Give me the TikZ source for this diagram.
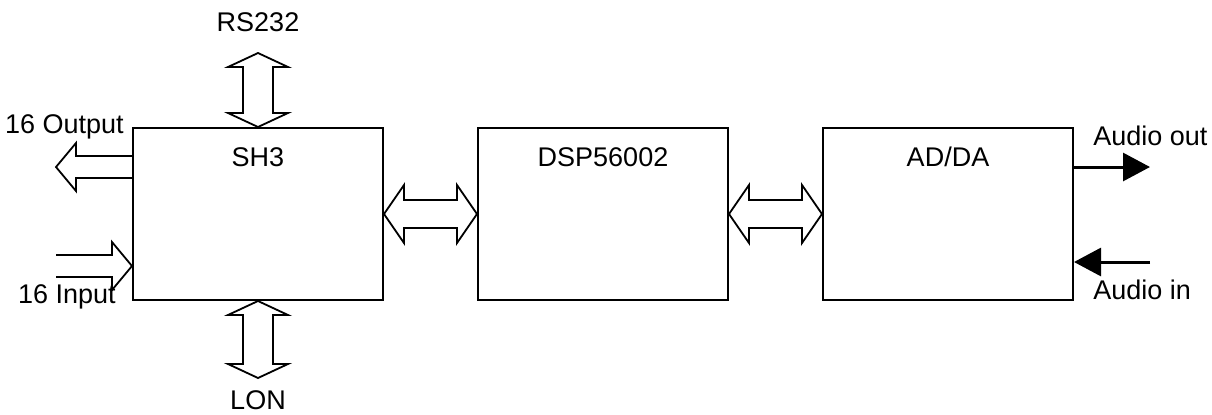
\documentclass[tikz,border=0pt]{standalone}
\usepackage{fontspec}
\setmainfont{Liberation Sans}
\usetikzlibrary{calc,arrows.meta}

\tikzset{
  block/.style={draw, line width=1pt, minimum width=125pt, minimum height=86pt, inner sep=0pt},
  blocktxt/.style={font=\fontsize{13.5}{15}\selectfont},
  sidetxt/.style={font=\fontsize{13.5}{15}\selectfont, inner sep=0pt},
  fatarrow/.style={draw, line width=0.9pt, line join=miter},
  audioarrow/.style={line width=1.5pt, -{Triangle[length=13.5pt,width=14pt]}}
}

% hollow double arrows, #1 and #2 are the tips
\newcommand{\hdouble}[2]{%
  \draw[fatarrow] (#1) -- ++(20,-29) -- ++(0,15) -- ($(#2)+(-20,-14)$) -- ++(0,-15)
    -- (#2) -- ++(-20,29) -- ++(0,-15) -- ($(#1)+(20,14)$) -- ++(0,15) -- cycle;}
\newcommand{\vdouble}[2]{%
  \draw[fatarrow] (#1) -- ++(30,14) -- ++(-15,0) -- ($(#2)+(15,-14)$) -- ++(15,0)
    -- (#2) -- ++(-30,-14) -- ++(15,0) -- ($(#1)+(-15,14)$) -- ++(-15,0) -- cycle;}
% hollow single arrow, open at the tail: #1 tail, #2 tip, #3 = 1 right / -1 left
\newcommand{\hsingle}[3]{%
  \draw[fatarrow] ($(#1)+(0,-11)$) -- ($(#2)+({-20*(#3)},-11)$) -- ++(0,-13) -- (#2)
    -- ($(#2)+({-20*(#3)},24)$) -- ++(0,-13) -- ($(#1)+(0,11)$);}

\begin{document}
\begin{tikzpicture}[x=0.5pt,y=-0.5pt]
  \useasboundingbox (0,0) rectangle (1212,414);

  % Blocks
  \node[block] (sh3) at (258,214) {};
  \node[block] (dsp) at (603,214) {};
  \node[block] (adda) at (948,214) {};
  \node[blocktxt] (sh3txt) at ($(sh3.north)+(0,30)$) {SH3};
  \node[blocktxt] (dsptxt) at ($(dsp.north)+(0,30)$) {DSP56002};
  \node[blocktxt] (addatxt) at ($(adda.north)+(0,30)$) {AD/DA};

  % Free ends
  \coordinate (rstip) at (258,53);
  \coordinate (lontip) at (258,378);
  \coordinate (outtip) at (56,167);
  \coordinate (outtail) at (sh3.west |- outtip);
  \coordinate (intail) at (56,266);
  \coordinate (intip) at (intail -| sh3.west);
  \coordinate (aoutend) at (1150,167);
  \coordinate (ainstart) at (1150,262);

  % Labels
  \node[sidetxt] (rs232) at (258,22) {RS232};
  \node[sidetxt] (lon) at (258,400) {LON};
  \node[sidetxt, anchor=east] (out16) at (124,127) {16 Output};
  \node[sidetxt, anchor=east] (in16) at (116,297) {16 Input};
  \node[sidetxt, anchor=west] (aout) at (1093,136) {Audio out};
  \node[sidetxt, anchor=west] (ain) at (1093,290) {Audio in};

  % Bus arrows
  \hdouble{sh3.east}{dsp.west}
  \hdouble{dsp.east}{adda.west}
  \vdouble{rstip}{sh3.north}
  \vdouble{sh3.south}{lontip}
  \hsingle{outtail}{outtip}{-1}
  \hsingle{intail}{intip}{1}

  % Audio
  \draw[audioarrow] (adda.east |- aoutend) -- (aoutend);
  \draw[audioarrow] (ainstart) -- (adda.east |- ainstart);
\end{tikzpicture}
\end{document}
